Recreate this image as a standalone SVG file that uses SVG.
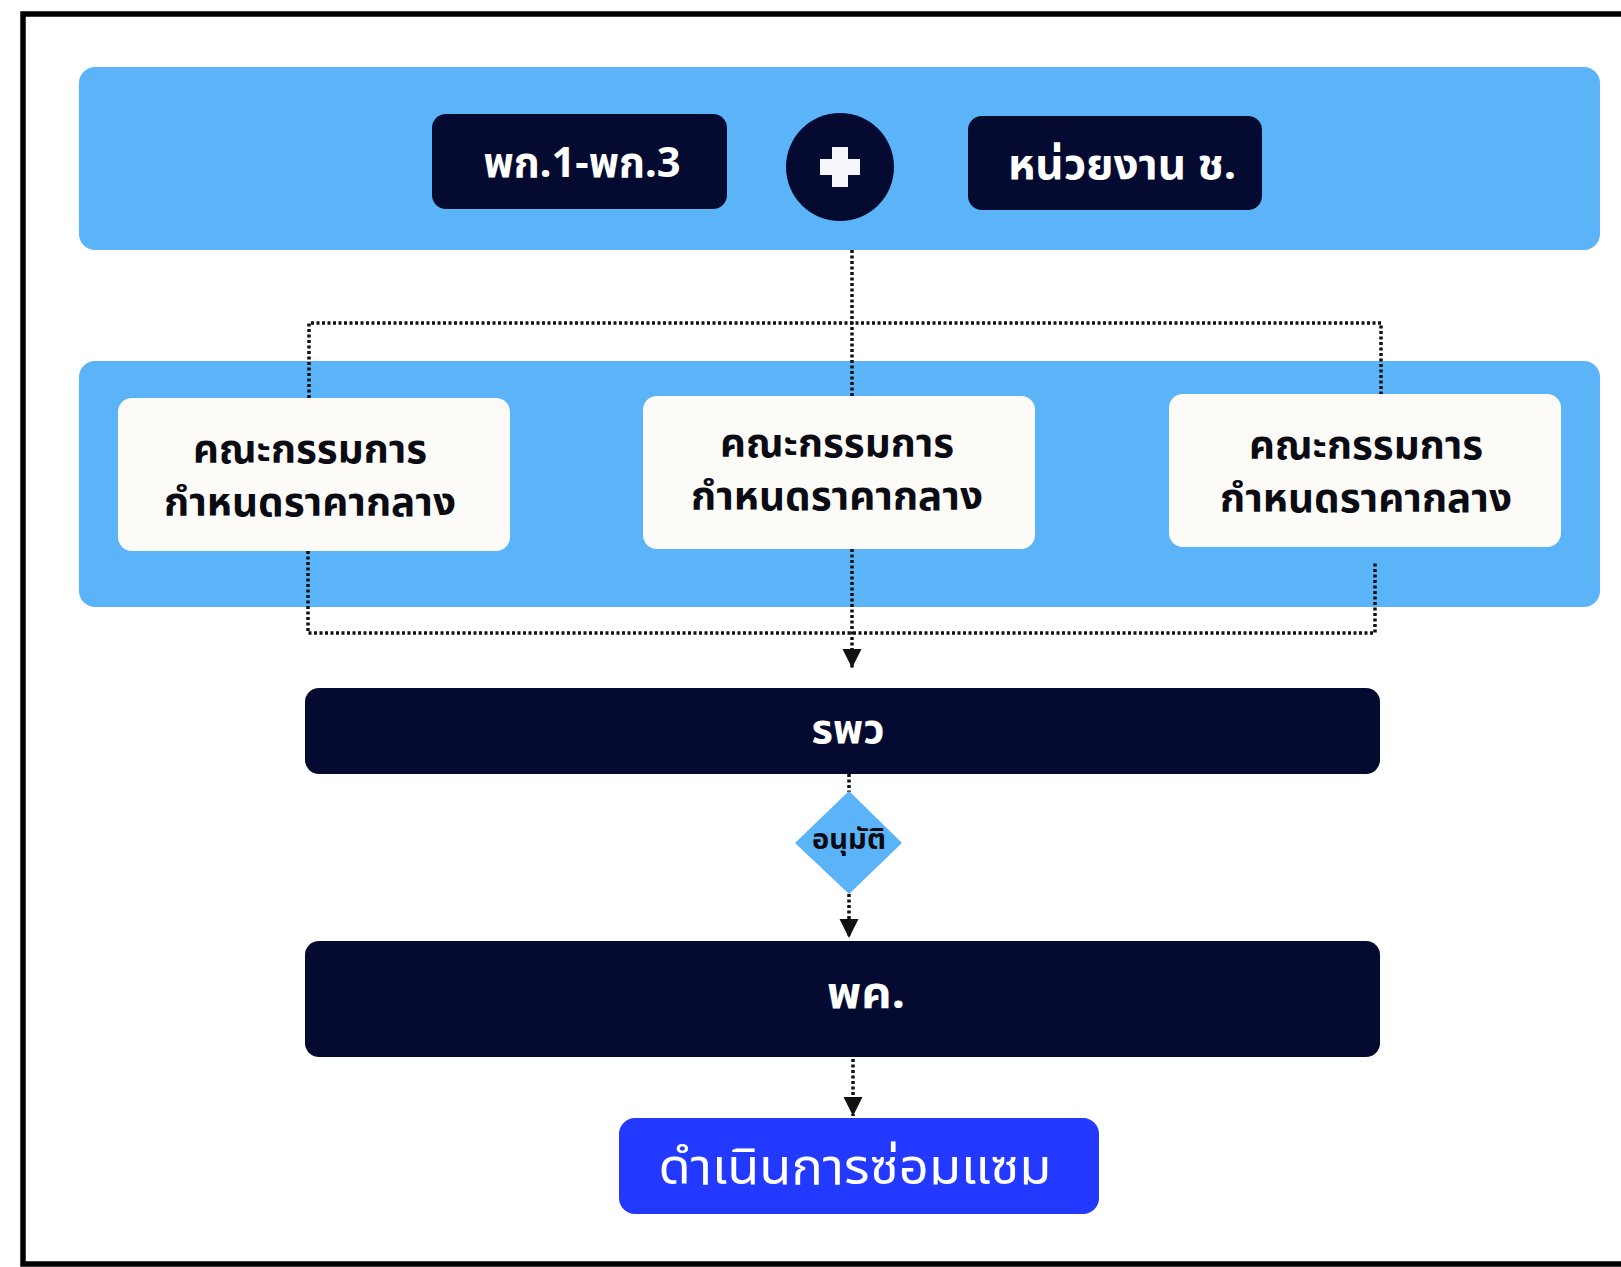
<svg xmlns="http://www.w3.org/2000/svg" width="1621" height="1267" viewBox="0 0 1621 1267">
  <style>
    .panel { fill: #5CB4F8; }
    .dark { fill: #050B30; }
    .card { fill: #FDFBF8; }
    .t { font-family: "Noto Sans", "Noto Sans Thai", "DejaVu Sans", sans-serif; text-anchor: middle; dominant-baseline: central; }
    .tw { fill: #FFFFFF; font-weight: 700; }
    .tk { fill: #0B0B14; font-weight: 700; }
    .dot { fill: none; stroke: #111111; stroke-width: 3.5; stroke-dasharray: 3 2.5; }
  </style>
  <defs>
    <marker id="arr" viewBox="0 0 10 10" refX="10" refY="5" markerWidth="5.5" markerHeight="6" orient="auto" markerUnits="strokeWidth">
      <path d="M0,0 L10,5 L0,10 z" fill="#111111"/>
    </marker>
  </defs>
  <rect x="0" y="0" width="1621" height="1267" fill="#FFFFFF"/>
  <rect id="frame" x="23" y="14" width="1620" height="1250" fill="none" stroke="#000000" stroke-width="5.5"/>

  <g id="panel-top"><rect class="panel" x="79" y="67" width="1521" height="183" rx="16"/></g>
  <g id="panel-mid"><rect class="panel" x="79" y="361" width="1521" height="246" rx="16"/></g>

  <g id="connectors">
    <line class="dot" x1="852" y1="250" x2="852" y2="396"/>
    <polyline class="dot" points="309,398 309,323 1381,323 1381,394"/>
    <polyline class="dot" points="308,551 308,633 1375,633 1375,561"/>
    <line class="dot" x1="852" y1="549" x2="852" y2="668" marker-end="url(#arr)"/>
    <line class="dot" x1="849" y1="774" x2="849" y2="792"/>
    <line class="dot" x1="849" y1="894" x2="849" y2="938" marker-end="url(#arr)"/>
    <line class="dot" x1="853" y1="1037" x2="853" y2="1116" marker-end="url(#arr)"/>
  </g>

  <g id="node-pk">
    <rect class="dark" x="432" y="114" width="295" height="95" rx="14"/>
    <text class="t tw" x="582" y="160" font-size="42" textLength="197" lengthAdjust="spacingAndGlyphs">พก.1-พก.3</text>
  </g>
  <g id="node-plus">
    <circle class="dark" cx="840" cy="167" r="54"/>
    <path d="M832,147 h16 v12 h12 v16 h-12 v12 h-16 v-12 h-12 v-16 h12 z" fill="#F5F5FA"/>
  </g>
  <g id="node-unit">
    <rect class="dark" x="968" y="116" width="294" height="94" rx="14"/>
    <text class="t tw" x="1122" y="162" font-size="42" textLength="228" lengthAdjust="spacingAndGlyphs">หน่วยงาน ช.</text>
  </g>

  <g id="node-c1">
    <rect class="card" x="118" y="398" width="392" height="153" rx="14"/>
    <text class="t tk" x="310" y="447" font-size="39" textLength="234" lengthAdjust="spacingAndGlyphs">คณะกรรมการ</text>
    <text class="t tk" x="310" y="500" font-size="39" textLength="292" lengthAdjust="spacingAndGlyphs">กำหนดราคากลาง</text>
  </g>
  <g id="node-c2">
    <rect class="card" x="643" y="396" width="392" height="153" rx="14"/>
    <text class="t tk" x="837" y="441" font-size="39" textLength="234" lengthAdjust="spacingAndGlyphs">คณะกรรมการ</text>
    <text class="t tk" x="837" y="494" font-size="39" textLength="292" lengthAdjust="spacingAndGlyphs">กำหนดราคากลาง</text>
  </g>
  <g id="node-c3">
    <rect class="card" x="1169" y="394" width="392" height="153" rx="14"/>
    <text class="t tk" x="1366" y="443" font-size="39" textLength="234" lengthAdjust="spacingAndGlyphs">คณะกรรมการ</text>
    <text class="t tk" x="1366" y="496" font-size="39" textLength="292" lengthAdjust="spacingAndGlyphs">กำหนดราคากลาง</text>
  </g>

  <g id="node-rpw">
    <rect class="dark" x="305" y="688" width="1075" height="86" rx="14"/>
    <text class="t tw" x="848" y="727" font-size="40" textLength="73" lengthAdjust="spacingAndGlyphs">รพว</text>
  </g>
  <g id="node-approve">
    <polygon points="849,791 902,843 849,894 795,843" fill="#5CB4F8"/>
    <text class="t tk" x="849" y="838" font-size="28" textLength="74" lengthAdjust="spacingAndGlyphs">อนุมัติ</text>
  </g>
  <g id="node-pkc">
    <rect class="dark" x="305" y="941" width="1075" height="116" rx="14"/>
    <text class="t tw" x="866" y="991" font-size="44" textLength="78" lengthAdjust="spacingAndGlyphs">พค.</text>
  </g>
  <g id="node-repair">
    <rect x="619" y="1118" width="480" height="96" rx="16" fill="#2339FF"/>
    <text class="t" x="855" y="1165" font-size="50" fill="#FFFFFF" textLength="393" lengthAdjust="spacingAndGlyphs">ดำเนินการซ่อมแซม</text>
  </g>
</svg>
